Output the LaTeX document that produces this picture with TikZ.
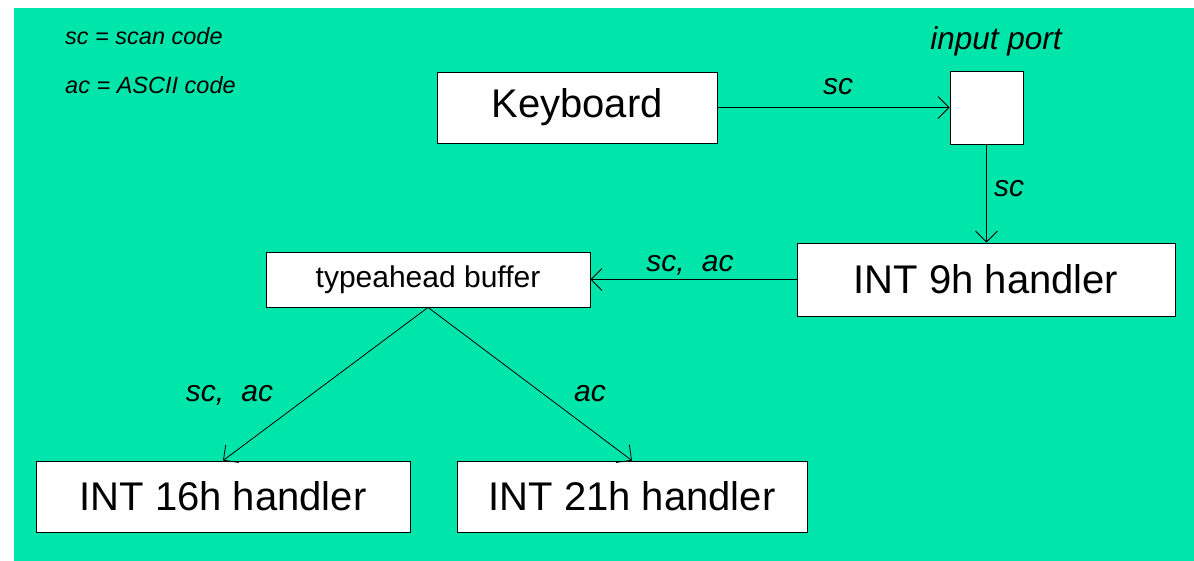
\documentclass[tikz,border=0pt]{standalone}
\usepackage{fontspec}
\setmainfont{Liberation Sans}
\usetikzlibrary{arrows.meta}
\definecolor{bggreen}{HTML}{00E5AA}
\begin{document}
\begin{tikzpicture}[x=1pt,y=-1pt,
  box/.style={draw=black, fill=white, line width=0.8pt, inner sep=0pt, font=\fontsize{40}{48}\selectfont},
  lbl/.style={font=\itshape\fontsize{30}{36}\selectfont, anchor=base, inner sep=0pt},
  legend/.style={font=\itshape\fontsize{23.5}{28}\selectfont, anchor=base west, inner sep=0pt},
  conn/.style={draw=black, line width=0.8pt, -{Straight Barb[length=11pt,width=22pt]}}]
\useasboundingbox (0,0) rectangle (1194,561);
\fill[white] (0,0) rectangle (1194,561);
\fill[bggreen] (14,8) rectangle (1194,561);

\node[box, minimum width=280pt, minimum height=71pt] (kbd) at (577,107.5) {Keyboard};
\node[box, minimum width=73pt, minimum height=73pt] (port) at (986.5,107.5) {};
\node[box, minimum width=378pt, minimum height=73pt] (int9) at (986,279.5) {INT 9h handler};
\node[box, font=\fontsize{30}{36}\selectfont, minimum width=324pt, minimum height=55pt] (buf) at (428,279.5) {typeahead buffer};
\node[box, minimum width=374pt, minimum height=71pt] (int16) at (223,496.5) {INT 16h handler};
\node[box, minimum width=350pt, minimum height=71pt] (int21) at (632,496.5) {INT 21h handler};

\draw[conn] (kbd.east) -- (port.west);
\draw[conn] (port.south) -- (port.south |- int9.north);
\draw[conn] (int9.west) -- (buf.east);
\draw[conn] (buf.south) -- (int16.north);
\draw[conn] (buf.south) -- (int21.north);

\node[lbl] (l1) at (838,95) {sc};
\node[lbl] (l2) at (1009,197) {sc};
\node[lbl] (l3) at (690,272) {sc,\hspace{0.3em} ac};
\node[lbl] (l4) at (229.5,401) {sc,\hspace{0.3em} ac};
\node[lbl] (l5) at (590,401) {ac};
\node[lbl, font=\itshape\fontsize{31.5}{36}\selectfont] (portlbl) at (996,50) {input port};
\node[legend] (leg1) at (65,45) {sc = scan code};
\node[legend] (leg2) at (65,94) {ac = ASCII code};
\end{tikzpicture}
\end{document}
